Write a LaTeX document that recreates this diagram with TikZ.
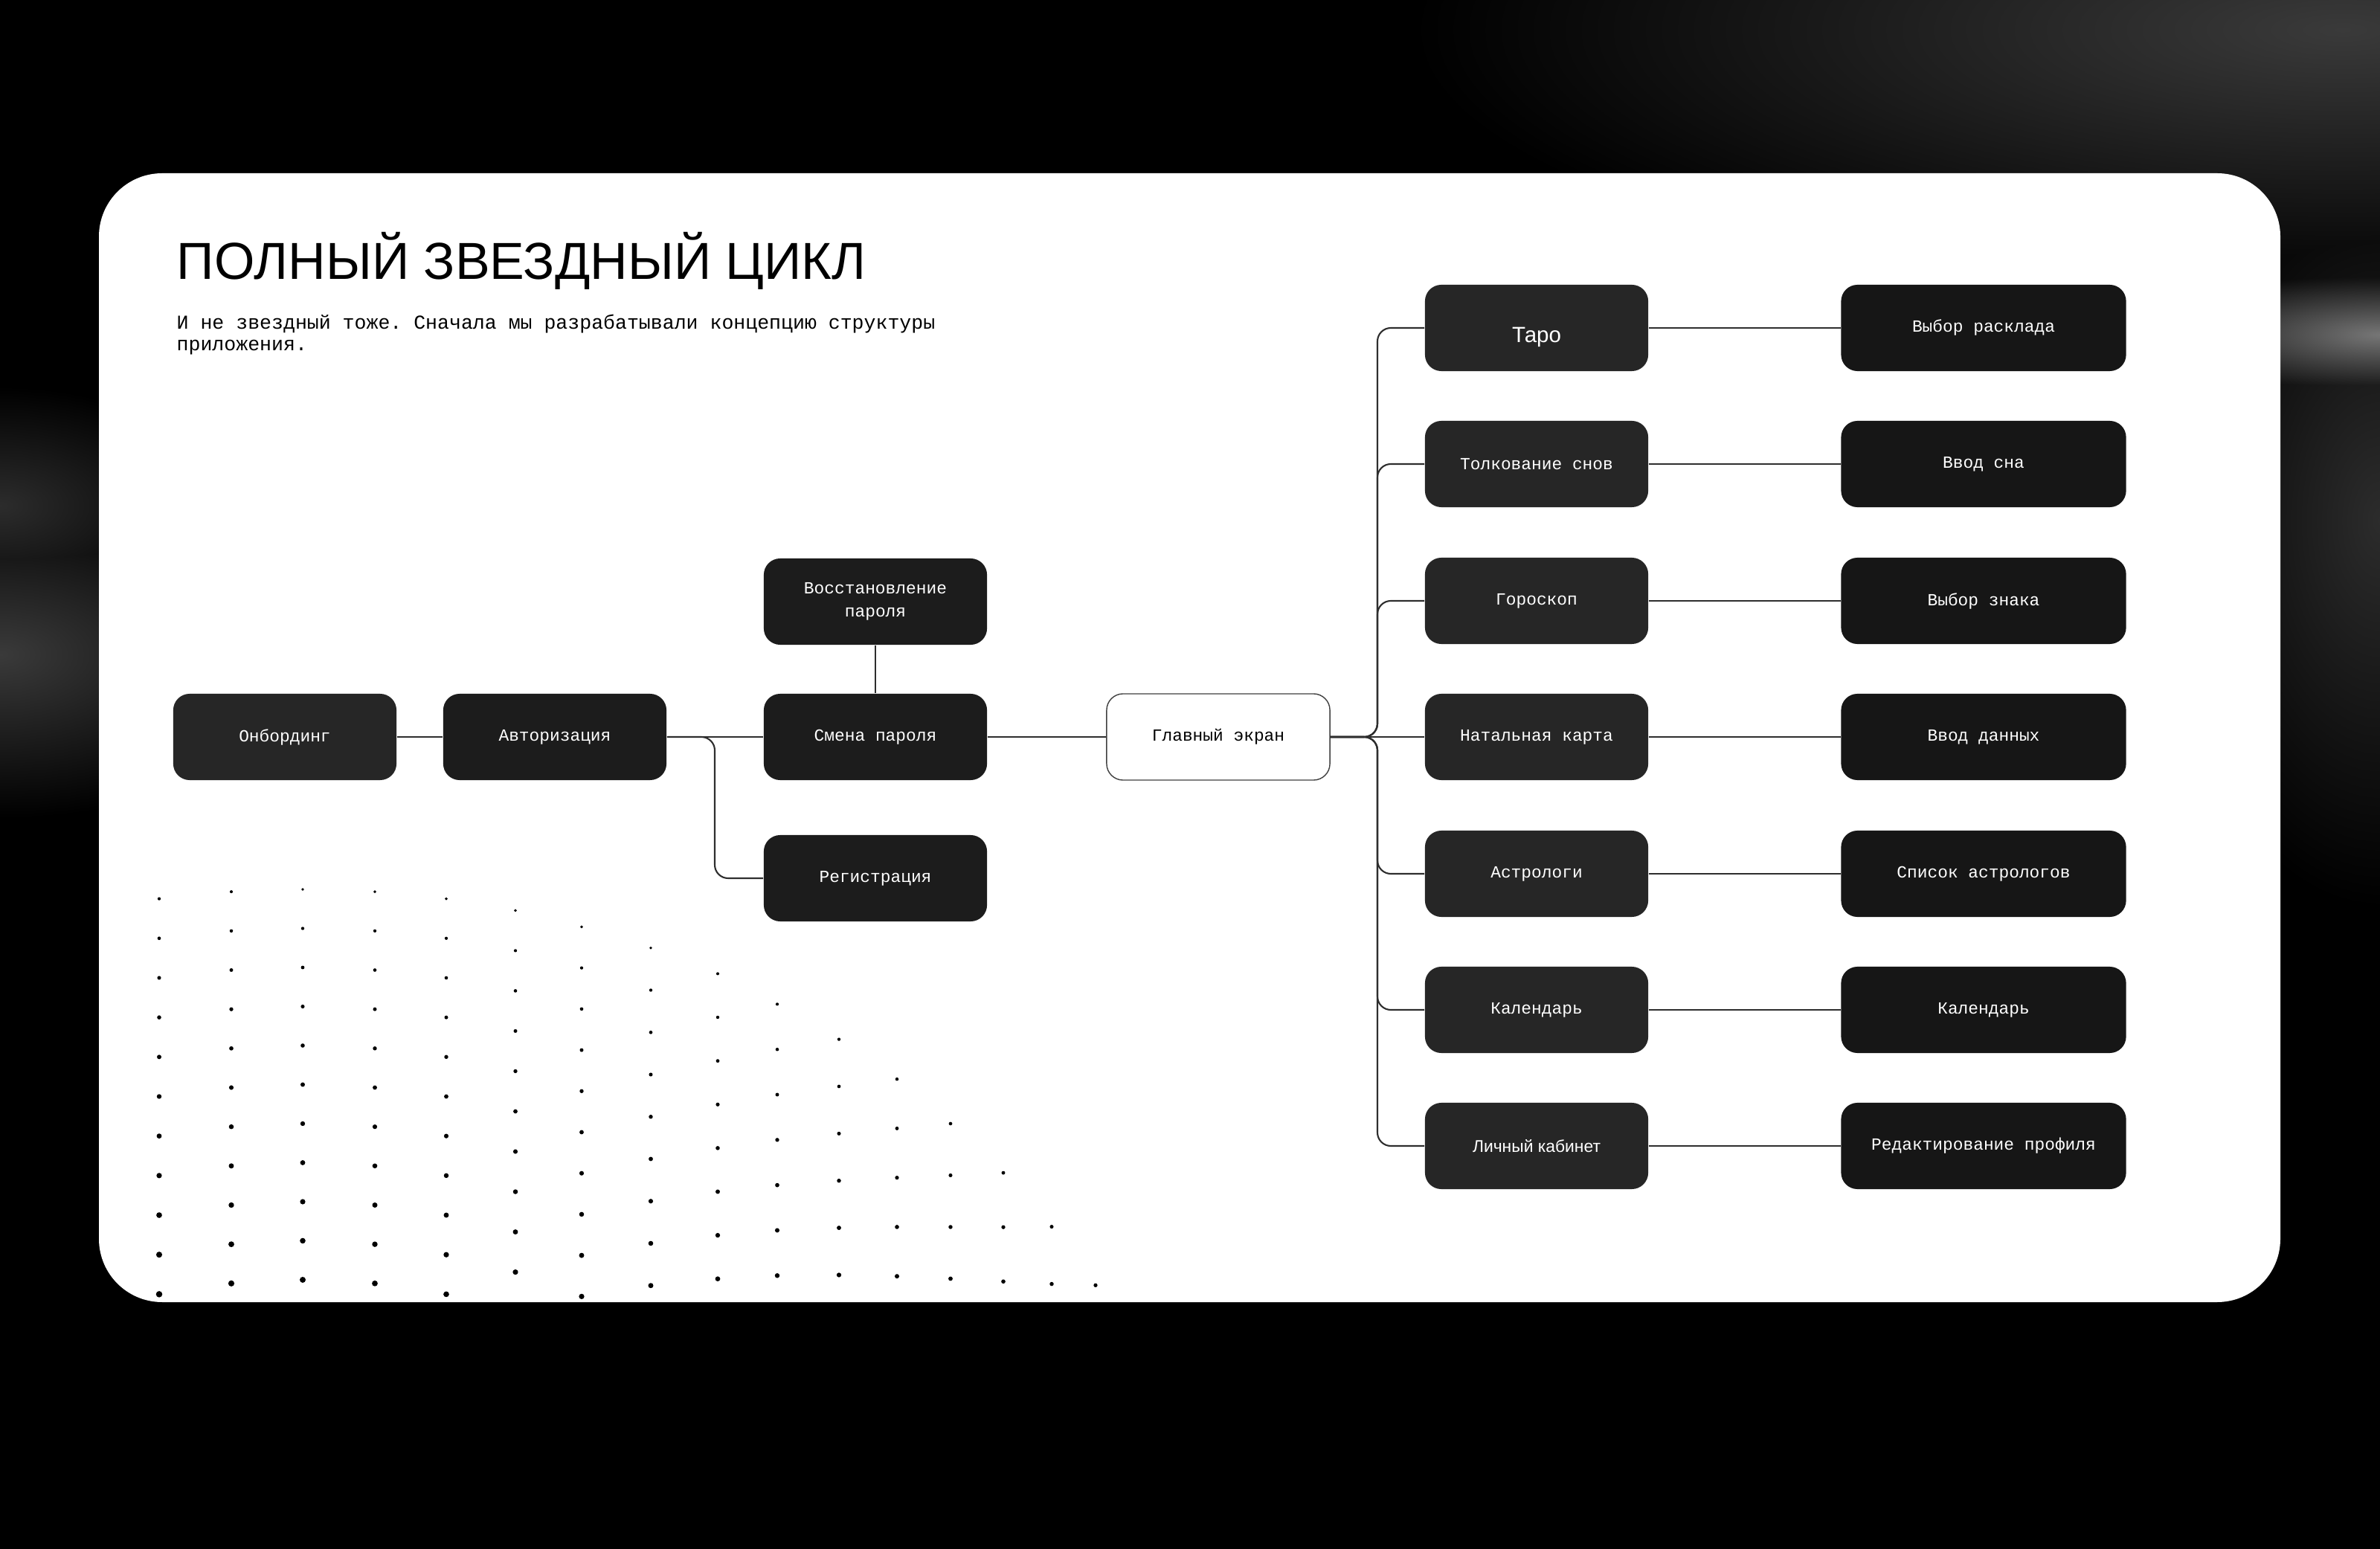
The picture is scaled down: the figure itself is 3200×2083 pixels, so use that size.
\documentclass[tikz,border=0pt]{standalone}
\usepackage{fontspec}
\setmainfont{Liberation Sans}
\setmonofont{Liberation Mono}
\newfontfamily\titlefont{Liberation Sans}
\usepackage{xcolor}
\usetikzlibrary{positioning}

\definecolor{boxlight}{HTML}{262626}
\definecolor{boxmid}{HTML}{1C1C1C}
\definecolor{boxdark}{HTML}{161616}
\definecolor{wirecol}{HTML}{2E2E2E}
\definecolor{hazedim}{HTML}{2C2C2C}
\definecolor{hazemid}{HTML}{3A3A3A}
\definecolor{hazebright}{HTML}{767676}

\tikzset{
  screen/.style={rounded corners=0.22cm, minimum width=3cm, minimum height=1.16cm,
    inner sep=0pt, align=center, text=white,
    font=\ttfamily\fontsize{6.5}{8.8}\selectfont},
  screenlight/.style={screen, fill=boxlight},
  screenmid/.style={screen, fill=boxmid},
  screendark/.style={screen, fill=boxdark, minimum width=3.83cm},
  mainscreen/.style={screen, fill=white, draw=black!75, line width=0.4pt, text=black},
  wire/.style={draw=wirecol, line width=0.6pt},
  branchwire/.style={wire, rounded corners=0.18cm},
}

\begin{document}
\begin{tikzpicture}[x=0.01cm, y=-0.01cm]
  \useasboundingbox (0,0) rectangle (3200,2083);

  % background
  \fill[black] (0,0) rectangle (3200,2083);
  \begin{scope}[blend mode=lighten]
    \clip (0,0) rectangle (3200,2083);
    \shade[inner color=hazemid, outer color=black] (0,880) ellipse[x radius=420, y radius=220];
    \shade[inner color=hazedim, outer color=black] (0,680) ellipse[x radius=300, y radius=160];
    \shade[inner color=hazemid, outer color=black] (3150,40) ellipse[x radius=1250, y radius=360];
    \shade[inner color=hazedim, outer color=black] (3200,700) ellipse[x radius=300, y radius=520];
    \shade[inner color=hazebright, outer color=black] (3200,450) ellipse[x radius=340, y radius=90];
  \end{scope}

  % card
  \fill[white, rounded corners=0.85cm] (133,233) rectangle (3066,1751);

  % dots
  \foreach \i/\x in {0/214,1/311,2/407,3/504,4/600,5/693,6/782,7/875,8/965,9/1045,10/1128,11/1206,12/1278,13/1349,14/1414,15/1473} {
    \foreach \j in {0,...,10} {
      \pgfmathsetmacro\yy{1196+3.15*(\i-2)^2+\j*(52.5+0.17*(\i-2)^2)}
      \pgfmathsetmacro\rr{0.2845*(2.1+2.2*(\yy-1200)/550)*(1-0.025*\i)}
      \ifdim\yy pt<1745pt
        \fill[black] (\x,\yy) circle[radius=\rr pt];
      \fi
    }
  }

  % title
  \node[anchor=base west, inner sep=0pt, font=\titlefont\fontsize{19.9}{22}\selectfont] (TITLE) at (237,376) {ПОЛНЫЙ ЗВЕЗДНЫЙ ЦИКЛ};
  \node[anchor=base west, inner sep=0pt, align=left, font=\ttfamily\fontsize{7.55}{8.5}\selectfont] (SUB) at (237,472)
    {И не звездный тоже. Сначала мы разрабатывали концепцию структуры\\приложения.};

  % left part
  \node[screenlight] (ONB) at (383,991) {Онбординг};
  \node[screenmid] (AUTH) at (746,991) {Авторизация};
  \node[screenmid] (PASS) at (1177,991) {Смена пароля};
  \node[screenmid] (REST) at (1177,809) {Восстановление\\пароля};
  \node[screenmid] (REG) at (1177,1181) {Регистрация};
  \node[mainscreen] (MAIN) at (1638,991) {Главный экран};

  \draw[wire] (ONB) -- (AUTH);
  \draw[wire] (AUTH) -- (PASS);
  \draw[wire] (REST) -- (PASS);
  \draw[wire] (PASS) -- (MAIN);
  \coordinate (FORK) at (961,991);
  \draw[branchwire] (AUTH.east) -- (FORK) |- (REG.west);

  % sections
  \node[screenlight, text height=1.1em, text depth=0pt, font=\rmfamily\fontsize{8.4}{10}\selectfont] (L1) at (2066,441) {Таро};
  \node[screenlight] (L2) at (2066,624) {Толкование снов};
  \node[screenlight] (L3) at (2066,808) {Гороскоп};
  \node[screenlight] (L4) at (2066,991) {Натальная карта};
  \node[screenlight] (L5) at (2066,1175) {Астрологи};
  \node[screenlight] (L6) at (2066,1358) {Календарь};
  \node[screenlight, font=\rmfamily\fontsize{6.5}{8}\selectfont] (L7) at (2066,1541) {Личный кабинет};

  \node[screendark] (R1) at (2667,441) {Выбор расклада};
  \node[screendark] (R2) at (2667,624) {Ввод сна};
  \node[screendark] (R3) at (2667,808) {Выбор знака};
  \node[screendark] (R4) at (2667,991) {Ввод данных};
  \node[screendark] (R5) at (2667,1175) {Список астрологов};
  \node[screendark] (R6) at (2667,1358) {Календарь};
  \node[screendark] (R7) at (2667,1541) {Редактирование профиля};

  \coordinate (HUB) at (1852,991);
  \draw[wire] (MAIN) -- (L4);
  \draw[branchwire] (MAIN.east) -- (HUB) |- (L1.west);
  \draw[branchwire] (MAIN.east) -- (HUB) |- (L2.west);
  \draw[branchwire] (MAIN.east) -- (HUB) |- (L3.west);
  \draw[branchwire] (MAIN.east) -- (HUB) |- (L5.west);
  \draw[branchwire] (MAIN.east) -- (HUB) |- (L6.west);
  \draw[branchwire] (MAIN.east) -- (HUB) |- (L7.west);

  \draw[wire] (L1) -- (R1);
  \draw[wire] (L2) -- (R2);
  \draw[wire] (L3) -- (R3);
  \draw[wire] (L4) -- (R4);
  \draw[wire] (L5) -- (R5);
  \draw[wire] (L6) -- (R6);
  \draw[wire] (L7) -- (R7);
\end{tikzpicture}
\end{document}
